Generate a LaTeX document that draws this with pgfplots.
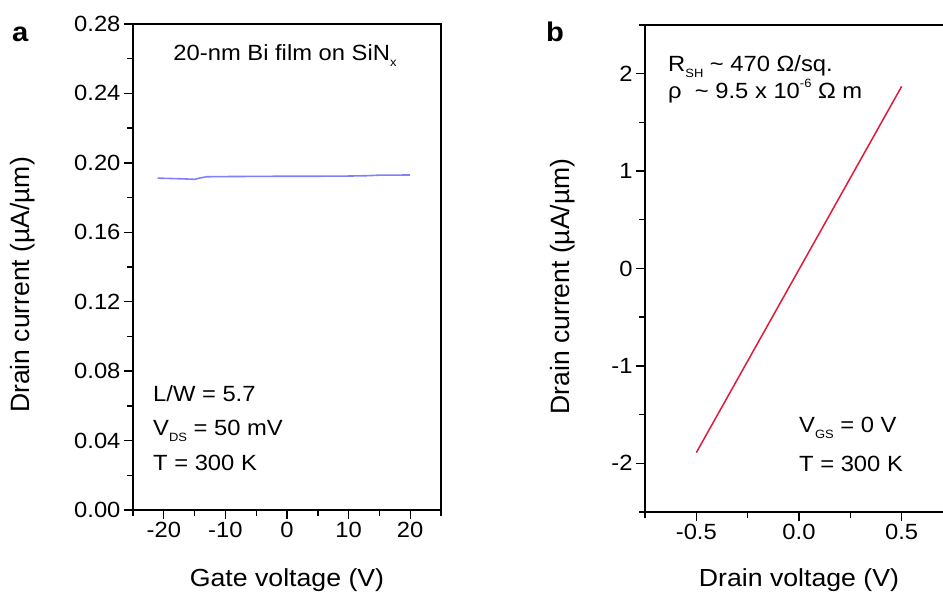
\documentclass[border=0pt]{standalone}
\usepackage{pgfplots}
\pgfplotsset{compat=1.18}
\usepackage{fontspec}
\setmainfont{Liberation Sans}[FakeStretch=1.08]
\newfontfamily\yfont{Liberation Sans}
\definecolor{lineblue}{RGB}{128,128,255}
\definecolor{linered}{RGB}{222,28,58}
\newcommand\sub[1]{\raisebox{-0.45ex}{\fontsize{12}{12}\selectfont #1}}
\newcommand\sups[1]{\raisebox{1.0ex}{\fontsize{12}{12}\selectfont #1}}
\pgfplotsset{
  myaxis/.style={
    scale only axis, width=308pt, anchor=south west,
    axis line style={line width=1.4pt},
    every tick/.style={line width=1.4pt, black},
    tick align=outside, tick pos=left,
    major tick length=9pt, minor tick length=6pt,
    /pgf/number format/assume math mode=true,
    ticklabel style={font=\fontsize{22}{26}\selectfont},
    xlabel style={font=\fontsize{24.7}{28}\selectfont},
    ylabel style={font=\yfont\fontsize{26.5}{30}\selectfont},
  }
}
\begin{document}
\begin{tikzpicture}[x=1pt,y=1pt]
\path[use as bounding box, clip] (0,0) rectangle (943,594);
% Panel a
\begin{axis}[myaxis, at={(133pt,84pt)}, height=486pt,
  xmin=-25, xmax=25, xtick={-20,-10,0,10,20}, minor xtick={-25,-15,-5,5,15,25},
  ymin=0, ymax=0.28, ytick={0,0.04,0.08,0.12,0.16,0.20,0.24,0.28},
  minor ytick={0.02,0.06,0.10,0.14,0.18,0.22,0.26},
  yticklabel style={/pgf/number format/.cd, fixed, fixed zerofill, precision=2},
  xlabel={Gate voltage (V)}, ylabel={Drain current (µA/µm)},
  xlabel style={at={(axis description cs:0.5,-0.144)}, anchor=center},
  ylabel style={at={(axis description cs:-0.357,0.463)}, anchor=center},
]
\addplot[lineblue, line width=1.6pt] coordinates {
 (-21,0.1912) (-19,0.1910) (-17,0.1908) (-15,0.1905) (-14,0.1914) (-13,0.1920)
 (-10,0.1921) (-5,0.1922) (0,0.1923) (5,0.1923) (10,0.1924) (13,0.1926) (15,0.1929) (20,0.1930)
};
\end{axis}
% Panel b
\begin{axis}[myaxis, at={(645pt,82pt)}, height=487pt,
  xmin=-0.75, xmax=0.75, xtick={-0.5,0,0.5}, minor xtick={-0.75,-0.25,0.25,0.75},
  ymin=-2.5, ymax=2.5, ytick={-2,-1,0,1,2}, minor ytick={-2.5,-1.5,-0.5,0.5,1.5,2.5},
  xticklabel style={/pgf/number format/.cd, fixed, fixed zerofill, precision=1},
  xlabel={Drain voltage (V)}, ylabel={Drain current (µA/µm)},
  xlabel style={at={(axis description cs:0.5,-0.140)}, anchor=center},
  ylabel style={at={(axis description cs:-0.266,0.463)}, anchor=center},
]
\addplot[linered, line width=1.5pt] coordinates {(-0.5,-1.89) (0.5,1.87)};
\end{axis}
% annotations
\begin{scope}[every node/.style={inner sep=0pt, font=\fontsize{22}{26}\selectfont}]
\node[anchor=base west, font=\fontsize{27}{30}\selectfont\bfseries] at (12,552) {a};
\node[anchor=base west, font=\fontsize{27}{30}\selectfont\bfseries] at (546,552) {b};
\node[anchor=base] at (285,533) {20-nm Bi film on SiN\sub{x}};
\node[anchor=base west] at (153,192) {L/W = 5.7};
\node[anchor=base west] at (153,158) {V\sub{DS} = 50 mV};
\node[anchor=base west] at (153,123) {T = 300 K};
\node[anchor=base west] at (668,522) {R\sub{SH} \textasciitilde\ 470 Ω/sq.};
\node[anchor=base west] at (668,495) {ρ\ \ \textasciitilde\ 9.5 x 10\sups{-6} Ω m};
\node[anchor=base west] at (799,161) {V\sub{GS} = 0 V};
\node[anchor=base west] at (799,122) {T = 300 K};
\end{scope}
\end{tikzpicture}
\end{document}
